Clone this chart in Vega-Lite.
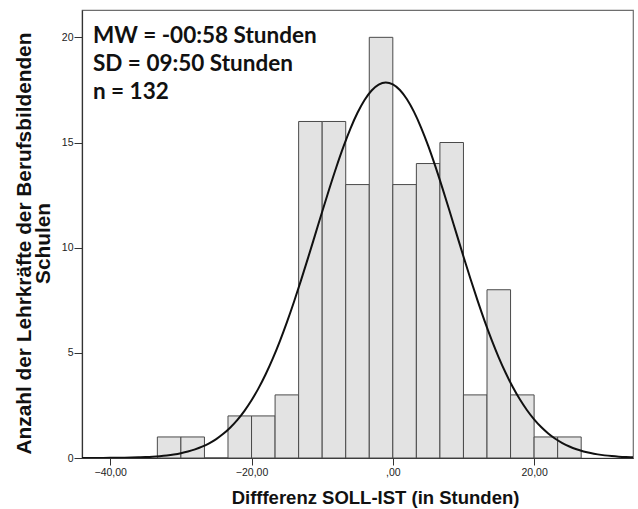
{
  "$schema": "https://vega.github.io/schema/vega-lite/v6.json",
  "width": 551,
  "height": 448,
  "autosize": {"type": "none"},
  "padding": {"left": 82, "top": 10, "right": 5, "bottom": 51},
  "background": "white",
  "config": {
    "view": {"stroke": "#6e6e6e", "strokeWidth": 1.2},
    "font": "Liberation Sans"
  },
  "datasets": {
    "bins": [
      {"start": -33.333, "end": -30, "count": 1},
      {"start": -30, "end": -26.667, "count": 1},
      {"start": -26.667, "end": -23.333, "count": 0},
      {"start": -23.333, "end": -20, "count": 2},
      {"start": -20, "end": -16.667, "count": 2},
      {"start": -16.667, "end": -13.333, "count": 3},
      {"start": -13.333, "end": -10, "count": 16},
      {"start": -10, "end": -6.667, "count": 16},
      {"start": -6.667, "end": -3.333, "count": 13},
      {"start": -3.333, "end": 0, "count": 20},
      {"start": 0, "end": 3.333, "count": 13},
      {"start": 3.333, "end": 6.667, "count": 14},
      {"start": 6.667, "end": 10, "count": 15},
      {"start": 10, "end": 13.333, "count": 3},
      {"start": 13.333, "end": 16.667, "count": 8},
      {"start": 16.667, "end": 20, "count": 3},
      {"start": 20, "end": 23.333, "count": 1},
      {"start": 23.333, "end": 26.667, "count": 1}
    ],
    "curve": [
      {"x": -44, "y": 0.00124}, {"x": -43, "y": 0.00192}, {"x": -42, "y": 0.00296}, {"x": -41, "y": 0.00449},
      {"x": -40, "y": 0.00677}, {"x": -39, "y": 0.01007}, {"x": -38, "y": 0.01485}, {"x": -37, "y": 0.02167},
      {"x": -36, "y": 0.0313}, {"x": -35, "y": 0.0447}, {"x": -34, "y": 0.0633}, {"x": -33, "y": 0.0885},
      {"x": -32, "y": 0.1227}, {"x": -31, "y": 0.1683}, {"x": -30, "y": 0.2285}, {"x": -29, "y": 0.3069},
      {"x": -28, "y": 0.4079}, {"x": -27, "y": 0.537}, {"x": -26, "y": 0.699}, {"x": -25, "y": 0.901},
      {"x": -24, "y": 1.149}, {"x": -23, "y": 1.451}, {"x": -22, "y": 1.812}, {"x": -21, "y": 2.241},
      {"x": -20, "y": 2.743}, {"x": -19, "y": 3.322}, {"x": -18, "y": 3.983}, {"x": -17, "y": 4.726},
      {"x": -16, "y": 5.549}, {"x": -15, "y": 6.45}, {"x": -14, "y": 7.418}, {"x": -13, "y": 8.444},
      {"x": -12, "y": 9.514}, {"x": -11, "y": 10.609}, {"x": -10, "y": 11.709}, {"x": -9, "y": 12.789},
      {"x": -8, "y": 13.824}, {"x": -7, "y": 14.79}, {"x": -6, "y": 15.661}, {"x": -5, "y": 16.412},
      {"x": -4, "y": 17.023}, {"x": -3, "y": 17.474}, {"x": -2, "y": 17.753}, {"x": -1, "y": 17.851},
      {"x": 0, "y": 17.765}, {"x": 1, "y": 17.498}, {"x": 2, "y": 17.057}, {"x": 3, "y": 16.457},
      {"x": 4, "y": 15.713}, {"x": 5, "y": 14.85}, {"x": 6, "y": 13.888}, {"x": 7, "y": 12.856},
      {"x": 8, "y": 11.778}, {"x": 9, "y": 10.68}, {"x": 10, "y": 9.584}, {"x": 11, "y": 8.511},
      {"x": 12, "y": 7.483}, {"x": 13, "y": 6.51}, {"x": 14, "y": 5.606}, {"x": 15, "y": 4.777},
      {"x": 16, "y": 4.029}, {"x": 17, "y": 3.363}, {"x": 18, "y": 2.778}, {"x": 19, "y": 2.271},
      {"x": 20, "y": 1.838}, {"x": 21, "y": 1.472}, {"x": 22, "y": 1.167}, {"x": 23, "y": 0.915},
      {"x": 24, "y": 0.711}, {"x": 25, "y": 0.546}, {"x": 26, "y": 0.415}, {"x": 27, "y": 0.313},
      {"x": 28, "y": 0.233}, {"x": 29, "y": 0.172}, {"x": 30, "y": 0.125}, {"x": 31, "y": 0.0905},
      {"x": 32, "y": 0.0647}, {"x": 33, "y": 0.0458}, {"x": 34, "y": 0.0321}
    ],
    "notes": [
      {"label": "MW = -00:58 Stunden", "x": -42.45, "y": 19.75},
      {"label": "SD = 09:50 Stunden", "x": -42.45, "y": 18.38},
      {"label": "n = 132", "x": -42.45, "y": 17.05}
    ]
  },
  "layer": [
    {
      "data": {"name": "bins"},
      "mark": {"type": "rect", "fill": "#e3e3e3", "stroke": "#4a4a4a", "strokeWidth": 1},
      "encoding": {
        "x": {
          "field": "start", "type": "quantitative",
          "scale": {"domain": [-44, 34], "nice": false, "zero": false},
          "axis": {
            "values": [-40, -20, 0, 20],
            "labelExpr": "datum.value == 0 ? ',00' : replace(format(datum.value, '.2f'), '.', ',')",
            "title": "Diffferenz SOLL-IST (in Stunden)",
            "titleFont": "Liberation Sans", "titleFontSize": 18.5, "titleFontWeight": "bold", "titleColor": "#111",
            "titlePadding": 11, "titleX": 293,
            "labelFont": "Liberation Sans", "labelFontSize": 10.5, "labelColor": "#222", "labelPadding": 2,
            "tickSize": 7, "tickColor": "#333", "domainColor": "#333", "domainWidth": 1.2,
            "grid": false
          }
        },
        "x2": {"field": "end"},
        "y": {
          "field": "count", "type": "quantitative",
          "scale": {"domain": [0, 21.3], "nice": false},
          "axis": {
            "values": [0, 5, 10, 15, 20],
            "title": ["Anzahl der Lehrkräfte der Berufsbildenden", "Schulen"],
            "titleFont": "Liberation Sans", "titleFontSize": 20.8, "titleFontWeight": "bold", "titleColor": "#111",
            "titleLineHeight": 18.5, "titlePadding": 8, "titleY": 233,
            "labelFont": "Liberation Sans", "labelFontSize": 10.5, "labelColor": "#222", "labelPadding": 1,
            "tickSize": 8, "tickColor": "#333", "domainColor": "#333", "domainWidth": 1.2,
            "grid": false
          }
        },
        "y2": {"datum": 0}
      }
    },
    {
      "data": {"name": "curve"},
      "mark": {"type": "line", "color": "#111", "strokeWidth": 2, "interpolate": "monotone", "clip": true},
      "encoding": {
        "x": {"field": "x", "type": "quantitative"},
        "y": {"field": "y", "type": "quantitative"}
      }
    },
    {
      "data": {"name": "notes"},
      "mark": {"type": "text", "align": "left", "baseline": "alphabetic", "font": "Lato", "fontSize": 22.5, "fontWeight": "bold", "color": "#111"},
      "encoding": {
        "x": {"field": "x", "type": "quantitative"},
        "y": {"field": "y", "type": "quantitative"},
        "text": {"field": "label"}
      }
    }
  ]
}
